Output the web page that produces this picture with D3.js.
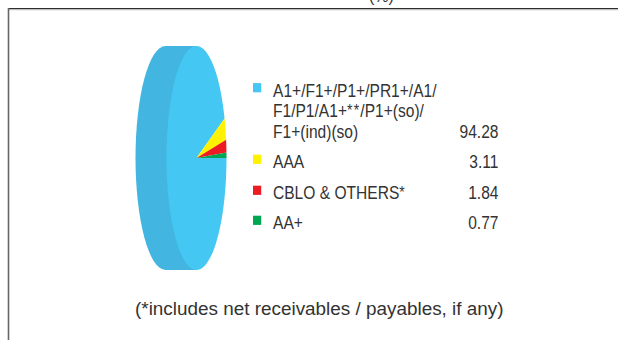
<!DOCTYPE html>
<html>
<head>
<meta charset="utf-8">
<script src="https://cdn.jsdelivr.net/npm/d3@7"></script>
<style>
  html, body { margin: 0; padding: 0; background: #fff; }
  svg { display: block; }
</style>
</head>
<body>
<svg id="chart" width="618" height="340"></svg>
<script>
// Rating classes and their share of the portfolio (%)
const ratingLines = [
  ["A1+/F1+/P1+/PR1+/A1/", "F1/P1/A1+**/P1+(so)/", "F1+(ind)(so)"],
  ["AAA"],
  ["CBLO & OTHERS*"],
  ["AA+"]
];
const ratingValues = [94.28, 3.11, 1.84, 0.77];
const ratingColors = ["#45c7f4", "#fff200", "#ed1c24", "#00a651"];
const valueLabels = ["94.28", "3.11", "1.84", "0.77"];
const footnote = "(*includes net receivables / payables, if any)";

const svg = d3.select("#chart");
const data = ratingValues.map((v, i) => ({ lines: ratingLines[i], value: v, color: ratingColors[i], label: valueLabels[i] }));

// Frame
svg.append("line").attr("x1", 8).attr("x2", 618).attr("y1", 8.5).attr("y2", 8.5)
  .attr("stroke", "#2e2e2e").attr("stroke-width", 1.2);
svg.append("line").attr("x1", 8).attr("x2", 618).attr("y1", 9.7).attr("y2", 9.7)
  .attr("stroke", "#9a9a9a").attr("stroke-width", 0.8);
svg.append("line").attr("x1", 8.5).attr("x2", 8.5).attr("y1", 8).attr("y2", 340)
  .attr("stroke", "#666").attr("stroke-width", 1.6);

// Title running off the top edge
svg.append("text").attr("x", 369).attr("y", 2)
  .attr("font-family", "Liberation Sans, Arial, sans-serif").attr("font-size", 16)
  .attr("fill", "#333").text("(%)");

// Disc seen almost edge-on: elliptical face plus a side band
const cx = 196.5, cy = 158, rx = 30, ry = 112, depth = 31;
const g = svg.append("g");
g.append("ellipse").attr("cx", cx - depth).attr("cy", cy).attr("rx", rx).attr("ry", ry)
  .attr("fill", "#42b6e0");
g.append("rect").attr("x", cx - depth).attr("y", cy - ry).attr("width", depth).attr("height", 2 * ry)
  .attr("fill", "#42b6e0");

const pie = d3.pie().value(d => d.value).sort(null)
  .startAngle(Math.PI / 2).endAngle(Math.PI / 2 + 2 * Math.PI);
const arc = d3.arc().innerRadius(0).outerRadius(1);
const face = g.append("g").attr("transform", `translate(${cx},${cy}) scale(${rx},${ry})`);
face.selectAll("path").data(pie(data)).join("path")
  .attr("d", arc).attr("fill", d => d.data.color);

// Legend, set in a condensed cut of the sans face; asterisks sit small and raised
const font = "'Liberation Sans', Arial, sans-serif";
const squeeze = 0.82;
const firstBaselines = [96.7, 168.3, 199.3, 229.3];
const y = d3.scaleOrdinal().domain(d3.range(data.length)).range(firstBaselines);
const lineGap = 20.6;
const legend = svg.append("g");
const label = (x, yy, t, anchor) => {
  const txt = legend.append("text")
    .attr("transform", `translate(${x},${yy}) scale(${squeeze},1)`)
    .attr("text-anchor", anchor)
    .attr("font-family", font).attr("font-size", 19).attr("fill", "#333");
  let raised = false;
  t.split(/(\*+)/).filter(s => s.length).forEach(part => {
    const span = txt.append("tspan").text(part);
    if (part[0] === "*") {
      span.attr("font-size", 17).attr("dy", -1.2).attr("letter-spacing", 1.5);
      raised = true;
    } else if (raised) {
      span.attr("dy", 1.2);
      raised = false;
    }
  });
  return txt;
};
data.forEach((d, i) => {
  const b = y(i);
  legend.append("rect").attr("x", 253).attr("y", b - 13.6).attr("width", 8.2).attr("height", 9.2)
    .attr("fill", d.color);
  d.lines.forEach((t, j) => label(273, b + j * lineGap, t, "start"));
  label(498.5, b + (d.lines.length - 1) * lineGap, d.label, "end");
});

// Footnote
svg.append("text").attr("x", 135).attr("y", 315)
  .attr("font-family", "Liberation Sans, Arial, sans-serif").attr("font-size", 18.9)
  .attr("fill", "#333").text(footnote);
</script>
</body>
</html>
